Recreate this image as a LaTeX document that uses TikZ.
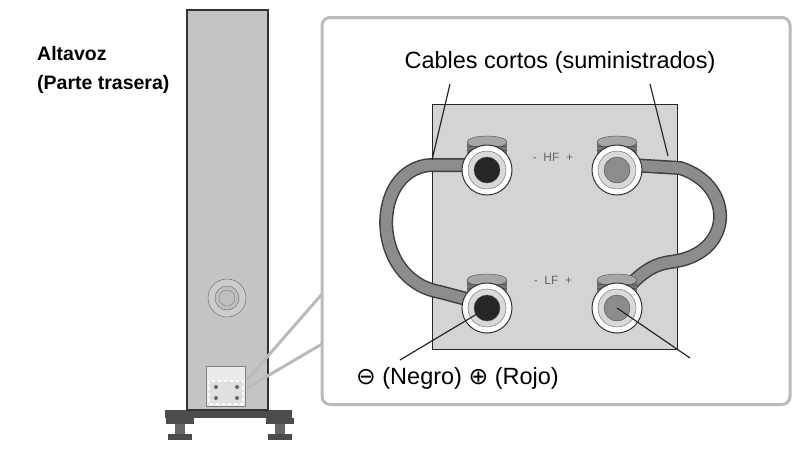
\documentclass[tikz,border=0pt]{standalone}
\usepackage{fontspec}
\setmainfont{Liberation Sans}
\newfontfamily\symf{DejaVu Sans}
\begin{document}
\begin{tikzpicture}[x=1pt,y=-1pt,
  lbl/.style={font=\fontsize{23.5}{27}\selectfont,inner sep=0pt},
  cable/.style={line width=14pt,draw=black!75,line cap=round},
  cablein/.style={line width=11pt,draw=black!45,line cap=round},
  lead/.style={draw=black!85,line width=1.2pt}]
\useasboundingbox (0,0) rectangle (798,456);
% tower
\fill[black!70] (165,410) rectangle (292,418);
\foreach \x in {180,280}{\fill[black!70] (\x-14,418) rectangle (\x+14,424);\fill[black!60] (\x-5,424) rectangle (\x+5,436);\fill[black!70] (\x-12,434) rectangle (\x+12,440);}
\draw[black!80,fill=black!23,line width=1.2pt] (187,10) rectangle (268,410);
\draw[black!60,fill=black!20] (227,298) circle (19);
\draw[black!60,fill=black!25] (227,298) circle (12);
\draw[black!50] (227,298) circle (8);
\node[draw=black!50,fill=black!8,minimum width=39pt,minimum height=40pt,inner sep=0pt] (tp) at (226,386) {};
\draw[white,fill=black!12,dashed,line width=1.3pt] (209,381) rectangle (243,404);
\foreach \p in {(216,387),(237,387),(216,398),(237,398)}{\fill[black!60] \p circle (2);}
% callout
\node[draw=black!27,line width=3pt,rounded corners=8pt,minimum width=468pt,minimum height=387pt,inner sep=0pt] (box) at (556,211) {};
\coordinate (w1) at (322,294); \coordinate (w2) at (322,344);
\draw[black!27,line width=3pt] (247,380) -- (w1);
\draw[black!27,line width=3pt] (247,388) -- (w2);
% plate
\node[draw=black!85,fill=black!17,line width=1.3pt,minimum width=245pt,minimum height=245pt,inner sep=0pt] (plate) at (555,227) {};
% cables
\def\lc{(470,165) -- (430,165) .. controls (370,170) and (370,280) .. (440,292) -- (470,300)}
\def\rc{(630,165) -- (680,168) .. controls (735,185) and (735,255) .. (670,262) .. controls (650,265) and (640,275) .. (625,290)}
\draw[cable] \lc; \draw[cablein] \lc;
\draw[cable] \rc; \draw[cablein] \rc;
% terminals
\foreach \n/\x/\y/\c in {tl/487/170/black!85,tr/617/170/black!45,bl/487/308/black!85,br/617/308/black!45}{
  \fill[black!55] (\x-20,\y-28) rectangle (\x+20,\y);
  \draw[black!70,fill=black!35] (\x,\y-28) ellipse (20 and 6);
  \foreach \k in {-24,-20,...,-4}{\draw[black!65] (\x-20,\y+\k) -- (\x+20,\y+\k);}
  \draw[black!80,fill=white,line width=1pt] (\x,\y) circle (25);
  \draw[black!60,fill=black!15] (\x,\y) circle (19);
  \node[circle,draw=black!70,fill=\c,minimum size=26pt,inner sep=0pt] (\n) at (\x,\y) {};
}
\node[text=black!60,font=\fontsize{12}{14}\selectfont] (hf) at (553,157) {-\ \ HF\ \ +};
\node[text=black!60,font=\fontsize{12}{14}\selectfont] (lf) at (553,280) {-\ \ LF\ \ +};
% labels
\node[lbl] (cab) at (560,62) {Cables cortos (suministrados)};
\coordinate (c1) at (450,84); \coordinate (c2) at (650,84);
\coordinate (c1e) at (432,160); \coordinate (c2e) at (668,156);
\draw[lead] (c1) -- (c1e); \draw[lead] (c2) -- (c2e);
\node[lbl,anchor=west] (neg) at (356,378) {{\symf ⊖} (Negro) {\symf ⊕} (Rojo)};
\coordinate (n1) at (400,360); \coordinate (n2) at (690,358);
\draw[lead] (n1) -- (bl.center); \draw[lead] (n2) -- (br.center);
\node[lbl,anchor=west,font=\fontsize{19.5}{29}\selectfont\bfseries,align=left] (alt) at (37,70) {Altavoz\\(Parte trasera)};
\end{tikzpicture}
\end{document}
